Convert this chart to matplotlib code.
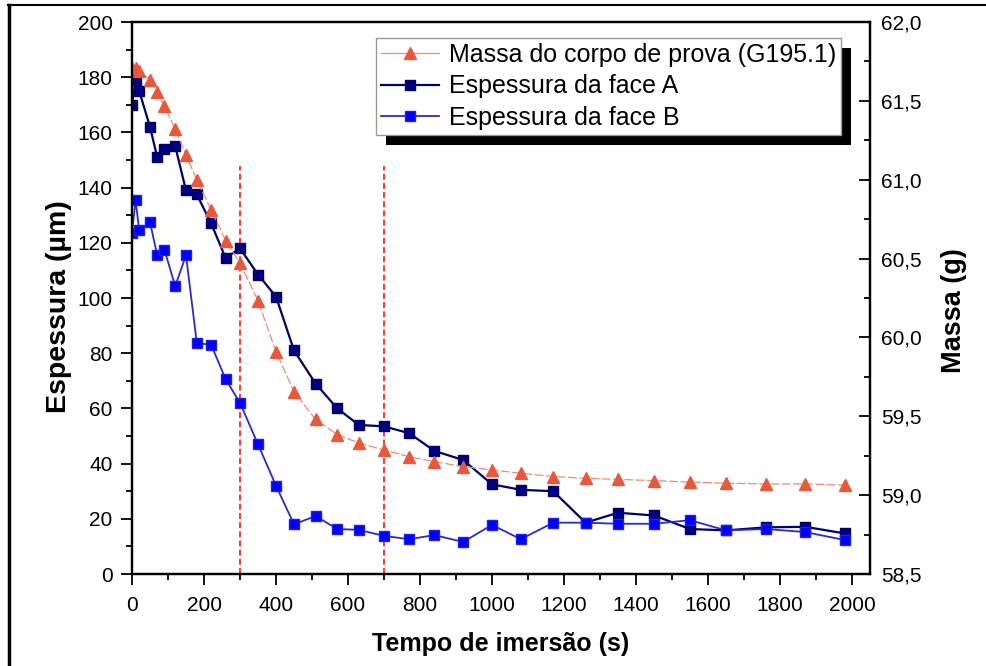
import matplotlib
matplotlib.use("Agg")

import matplotlib.pyplot as plt
from matplotlib.patches import Rectangle
from matplotlib.lines import Line2D
from matplotlib.ticker import MultipleLocator, FuncFormatter

plt.rcParams['font.family'] = ['Liberation Sans', 'DejaVu Sans']

# ---------------------------------------------------------------------------
# Data
# ---------------------------------------------------------------------------
tempo = [0, 10, 20, 50, 70, 90, 120, 150, 180, 220, 260, 300, 350, 400,
         450, 510, 570, 630, 700, 770, 840, 920, 1000, 1080, 1170, 1260,
         1350, 1450, 1550, 1650, 1760, 1870, 1980]

massa = [61.711, 61.708, 61.692, 61.633, 61.557, 61.468, 61.321, 61.157,
         60.999, 60.808, 60.614, 60.471, 60.233, 59.909, 59.655, 59.480,
         59.384, 59.331, 59.286, 59.244, 59.212, 59.181, 59.160, 59.139,
         59.118, 59.107, 59.100, 59.092, 59.083, 59.076, 59.071, 59.071,
         59.064]

face_a = [170, 179, 175, 162, 151, 154, 155, 139, 137.5, 127, 114.5, 118,
          108.5, 100.5, 81, 69, 60, 54, 53.5, 51, 44.6, 41.3, 32.5, 30.5,
          30, 18.6, 22.2, 21.2, 16.3, 15.8, 16.9, 17.1, 14.7]

face_b = [123.5, 135.5, 124.5, 127.5, 115.5, 117.5, 104.3, 115.5, 83.7, 83,
          70.6, 62, 47, 32, 18, 21, 16.3, 16, 13.8, 12.6, 14.1, 11.6, 17.8,
          12.6, 18.6, 18.6, 18.2, 18.2, 19.5, 15.8, 16.3, 15.2, 12.3]

cortes = [300, 700]

# ---------------------------------------------------------------------------
# Figure
# ---------------------------------------------------------------------------
fig = plt.figure(figsize=(9.86, 6.66), dpi=100)
ax = fig.add_axes([132 / 986, 1 - 574 / 666, (870 - 132) / 986, (574 - 22) / 666])
ax2 = ax.twinx()

ax.vlines(cortes, 0, 148, colors="#ff0000", linestyles=(0, (4, 2)), lw=1.1, zorder=1)

ax.plot(tempo, face_a, color="#000066", lw=1.6, marker="s", ms=7,
        mfc="#000080", mec="#000066", zorder=3)
ax.plot(tempo, face_b, color="#2a2acc", lw=1.3, marker="s", ms=7,
        mfc="#0000ff", mec="#2020e0", zorder=3)
ax2.plot(tempo, massa, color="#f08a78", lw=0.9, ls=(0, (7, 2)), marker="^", ms=8,
         mfc="#e8583a", mec="#e8583a", zorder=2)

ax.set_xlim(0, 2050)
ax.set_ylim(0, 200)
ax2.set_ylim(58.5, 62.0)

ax.xaxis.set_major_locator(MultipleLocator(200))
ax.xaxis.set_minor_locator(MultipleLocator(100))
ax.yaxis.set_major_locator(MultipleLocator(20))
ax.yaxis.set_minor_locator(MultipleLocator(10))
ax2.yaxis.set_major_locator(MultipleLocator(0.5))
ax2.yaxis.set_minor_locator(MultipleLocator(0.25))
ax2.yaxis.set_major_formatter(FuncFormatter(lambda v, p: f"{v:.1f}".replace(".", ",")))

ax.tick_params(axis="both", which="major", direction="out", length=8, width=1.3,
               labelsize=15, colors="black", pad=6)
ax.tick_params(axis="x", which="major", pad=8)
ax.tick_params(axis="both", which="minor", direction="out", length=4, width=1.3)
ax.tick_params(axis="y", right=False)
ax2.tick_params(axis="y", which="major", direction="in", length=8, width=1.3,
                labelsize=15, pad=8)
ax2.tick_params(axis="y", which="minor", direction="in", length=4.5, width=1.3)

for a in (ax, ax2):
    for sp in a.spines.values():
        sp.set_linewidth(1.6)

ax.set_xlabel("Tempo de imersão (s)", fontsize=18, fontweight="bold", labelpad=12)
ax.set_ylabel("Espessura (µm)", fontsize=20.5, fontweight="bold")
ax2.set_ylabel("Massa (g)", fontsize=19.5, fontweight="bold")
ax.yaxis.set_label_coords(-0.081, 0.484)
ax2.yaxis.set_label_coords(1.096, 0.478)

# legend with a solid black drop shadow
handles = [
    Line2D([], [], color="#f08a78", lw=0.9, marker="^", ms=8, mfc="#e8583a", mec="#e8583a"),
    Line2D([], [], color="#000066", lw=1.6, marker="s", ms=7, mfc="#000080", mec="#000066"),
    Line2D([], [], color="#2a2acc", lw=1.3, marker="s", ms=7, mfc="#0000ff", mec="#2020e0"),
]
labels = ["Massa do corpo de prova (G195.1)", "Espessura da face A", "Espessura da face B"]
leg = fig.legend(handles, labels, loc="upper right", bbox_to_anchor=(841 / 986, 1 - 38 / 666),
                 fontsize=18, frameon=True, fancybox=False, shadow=False, framealpha=1,
                 borderpad=0.2, labelspacing=0.3, handlelength=2.3, handletextpad=0.4,
                 borderaxespad=0)
leg.get_frame().set_facecolor("white")
leg.get_frame().set_edgecolor("#999999")
leg.get_frame().set_linewidth(1.0)
leg.set_zorder(6)

fig.canvas.draw()
bb = leg.get_window_extent()
x0, y0 = fig.transFigure.inverted().transform((bb.x0 + 10, bb.y0 - 10))
x1, y1 = fig.transFigure.inverted().transform((bb.x1 + 10, bb.y1 - 10))
fig.patches.append(Rectangle((x0, y0), x1 - x0, y1 - y0, transform=fig.transFigure,
                             facecolor="black", edgecolor="none", zorder=5))

# outer frame lines of the source page
fig.add_artist(Line2D([8 / 986, 1], [1 - 5 / 666, 1 - 5 / 666], color="black", lw=1.5))
fig.add_artist(Line2D([9 / 986, 9 / 986], [0, 1 - 5 / 666], color="black", lw=2.5))

fig.savefig("out.png", dpi=100)
